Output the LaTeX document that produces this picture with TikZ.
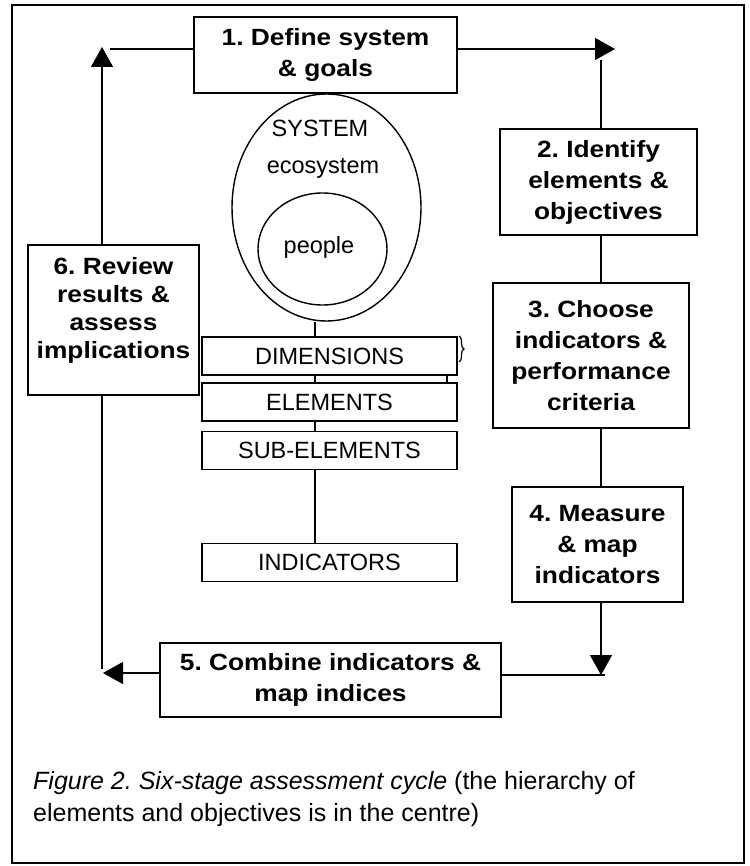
\documentclass[tikz,border=0pt]{standalone}
\usepackage{fontspec}
\setmainfont{Liberation Sans}
\newfontfamily\stagefont[FakeStretch=1.12]{Liberation Sans}
\usetikzlibrary{arrows.meta,decorations.pathreplacing,shapes.geometric}
\frenchspacing
\begin{document}
\begin{tikzpicture}[x=1pt,y=-1pt,
  stagebox/.style={draw, line width=1.6pt, fill=white, inner sep=0pt, align=center,
    font=\stagefont\bfseries\fontsize{23.5}{31}\selectfont},
  stagetext/.style={inner sep=0pt, align=center,
    font=\stagefont\bfseries\fontsize{23.5}{28}\selectfont},
  hierbox/.style={draw, line width=1.4pt, fill=white, inner sep=0pt,
    minimum width=255pt, minimum height=38pt, font=\fontsize{23.5}{28}\selectfont},
  conn/.style={line width=1.4pt},
  arr/.style={line width=1.4pt, -{Triangle[length=20pt,width=22pt]}},
  elli/.style={draw, ellipse, line width=1.4pt, inner sep=0pt},
  lbl/.style={font=\fontsize{23.5}{28}\selectfont, inner sep=0pt},
  captext/.style={font=\fontsize{25}{32}\selectfont, inner sep=0pt, anchor=base west}
]
\useasboundingbox (0,0) rectangle (749,866);
\draw[line width=1.4pt] (12,5) rectangle (744,863);

% central hierarchy
\coordinate (hx) at (315,0);
\coordinate (hx2) at (447,0);
\node[elli, minimum width=189pt, minimum height=227pt] (system) at (326.5,207.5) {};
\node[elli, minimum width=129pt, minimum height=112pt] (people) at (322.5,249) {};
\node[lbl] (tsys) at (320,128) {SYSTEM};
\node[lbl] (teco) at (323,168) {ecosystem};
\node[lbl] (tpeo) at (319,247) {people};

\node[hierbox] (dims) at (329.5,356) {DIMENSIONS};
\node[hierbox] (elems) at (329.5,402) {ELEMENTS};
\node[hierbox] (subs) at (329.5,450.5) {SUB-ELEMENTS};
\node[hierbox] (inds) at (329.5,562.5) {INDICATORS};

\draw[conn] (system.south -| hx) -- (dims.north -| hx);
\draw[conn] (dims.south -| hx) -- (elems.north -| hx);
\draw[conn] (dims.south -| hx2) -- (elems.north -| hx2);
\draw[conn] (elems.south -| hx) -- (subs.north -| hx);
\draw[conn] (subs.south -| hx) -- (inds.north -| hx);
\coordinate (br1) at (459,336);
\coordinate (br2) at (459,362);
\draw[line width=1.2pt, decorate, decoration={brace, amplitude=5pt}] (br1) -- (br2);

% stage boxes
\node[stagebox, minimum width=263pt, minimum height=76pt] (box1) at (325.5,55) {1. Define system\\\& goals};
\node[stagebox, minimum width=197pt, minimum height=106pt] (box2) at (598.5,182) {2. Identify\\elements \&\\objectives};
\node[stagebox, minimum width=196pt, minimum height=145pt] (box3) at (591,355.5) {3. Choose\\indicators \&\\performance\\criteria};
\node[stagebox, minimum width=171pt, minimum height=115pt] (box4) at (597.5,544.5) {4. Measure\\\& map\\indicators};
\node[stagebox, minimum width=341pt, minimum height=74pt] (box5) at (330.5,680) {5. Combine indicators \&\\map indices};
\node[stagebox, minimum width=171pt, minimum height=150pt] (box6) at (113.5,320) {};
\node[stagetext, anchor=north] (t6) at (113.5,257) {6. Review\\results \&\\assess\\implications};

% cycle connectors
\coordinate (rx) at (601,0);
\coordinate (tr) at (615,49);
\coordinate (trd) at (601,60);
\coordinate (bl) at (601,675);
\coordinate (br) at (605,675);
\coordinate (lt) at (103,673);
\coordinate (lx) at (102,669);
\coordinate (ltop) at (102,47);
\coordinate (tl) at (110,49);

\draw[arr] (box1.east |- tr) -- (tr);
\draw[conn] (trd) -- (box2.north -| rx);
\draw[conn] (box2.south -| rx) -- (box3.north -| rx);
\draw[conn] (box3.south -| rx) -- (box4.north -| rx);
\draw[arr] (box4.south -| rx) -- (bl);
\draw[conn] (box5.east |- br) -- (br);
\draw[arr] (box5.west |- lt) -- (lt);
\draw[conn] (lx) -- (box6.south -| lx);
\draw[arr] (box6.north -| lx) -- (ltop);
\draw[conn] (tl) -- (box1.west |- tl);

% caption
\node[captext] (cap1) at (33,789) {\itshape Figure 2. Six-stage assessment cycle\upshape{} (the hierarchy of};
\node[captext] (cap2) at (33,821) {elements and objectives is in the centre)};
\end{tikzpicture}
\end{document}
